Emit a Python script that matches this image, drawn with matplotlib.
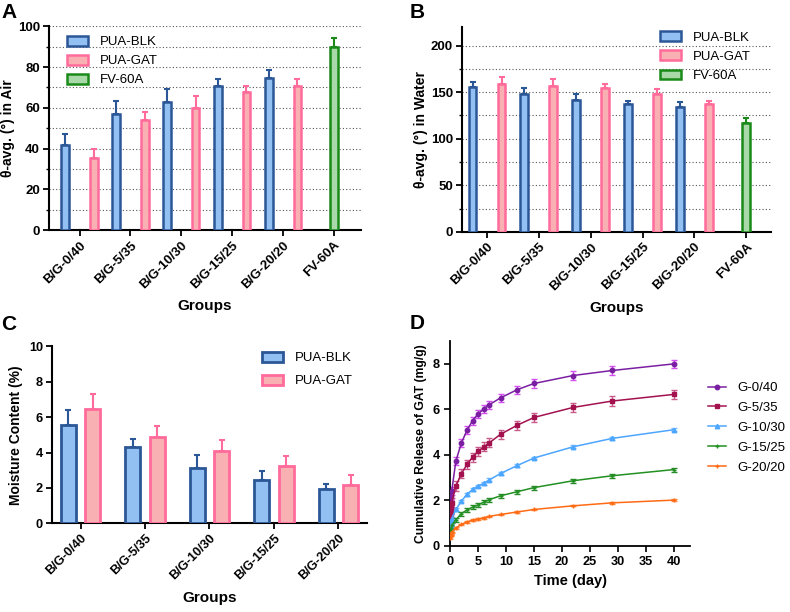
import numpy as np
import matplotlib
matplotlib.use("Agg")
import matplotlib.pyplot as plt
from matplotlib.ticker import MultipleLocator
from matplotlib.patches import Patch

plt.rcParams['font.family'] = ['Liberation Sans', 'DejaVu Sans']

groups = ["B/G-0/40", "B/G-5/35", "B/G-10/30", "B/G-15/25", "B/G-20/20"]
groups_fv = groups + ["FV-60A"]

# Panel A: contact angle in air
air_blk = [42, 57, 63, 70.5, 74.5]
air_blk_err = [5, 6.5, 6, 3.5, 4]
air_gat = [35.5, 54, 60, 68, 70.5]
air_gat_err = [4.5, 4, 6, 2.5, 3.5]
air_fv = 90
air_fv_err = 4.5

# Panel B: contact angle in water
wat_blk = [156, 148, 142, 137, 134]
wat_blk_err = [5, 7, 6, 4, 5]
wat_gat = [159, 157, 154, 148, 137]
wat_gat_err = [7, 7, 5, 5, 4]
wat_fv = 117
wat_fv_err = 5

# Panel C: moisture content
mc_blk = [5.55, 4.3, 3.1, 2.45, 1.95]
mc_blk_err = [0.85, 0.45, 0.75, 0.5, 0.25]
mc_gat = [6.45, 4.85, 4.1, 3.25, 2.15]
mc_gat_err = [0.85, 0.65, 0.6, 0.55, 0.6]

# Panel D: cumulative release
time_days = [0.021, 0.042, 0.083, 0.167, 0.25, 1, 2, 3, 4, 5, 6, 7, 9, 12, 15, 22, 29, 40]
rel_labels = ["G-0/40", "G-5/35", "G-10/30", "G-15/25", "G-20/20"]
rel_g0 = [1.3, 1.6, 1.9, 2.2, 2.4, 3.73, 4.53, 5.08, 5.5, 5.8, 6.02, 6.2, 6.5, 6.86, 7.13, 7.48, 7.7, 7.99]
rel_g5 = [1.3, 1.45, 1.6, 1.75, 1.9, 2.63, 3.17, 3.58, 3.9, 4.15, 4.35, 4.53, 4.9, 5.3, 5.64, 6.08, 6.36, 6.65]
rel_g10 = [0.8, 0.9, 1.0, 1.1, 1.2, 1.6, 1.97, 2.27, 2.48, 2.63, 2.75, 2.9, 3.18, 3.53, 3.86, 4.35, 4.72, 5.1]
rel_g15 = [0.6, 0.65, 0.72, 0.8, 0.9, 1.15, 1.42, 1.58, 1.7, 1.8, 1.92, 2.03, 2.2, 2.38, 2.56, 2.86, 3.08, 3.35]
rel_g20 = [0.35, 0.45, 0.5, 0.55, 0.6, 0.78, 0.95, 1.05, 1.13, 1.18, 1.23, 1.3, 1.38, 1.49, 1.6, 1.76, 1.89, 2.01]
rel_err = [0.18, 0.2, 0.06, 0.09, 0.03]

BLK_E, BLK_F = "#2b5797", "#93c0f2"
GAT_E, GAT_F = "#ff6b9b", "#f9b0b3"
FV_E, FV_F = "#1a8a1a", "#a9d8a9"

fig = plt.figure(figsize=(7.9, 6.12), dpi=100)

TICKFS = 9.5
LABFS = 10
GRPFS = 11
LEGFS = 9.5


def style_bar_axes(ax, fs=TICKFS):
    for s in ["top", "right"]:
        ax.spines[s].set_visible(False)
    ax.spines["left"].set_linewidth(1.5)
    ax.spines["bottom"].set_linewidth(1.5)
    ax.tick_params(axis="both", direction="out", width=1.3, length=4, labelsize=fs, pad=2.5)
    ax.tick_params(axis="y", which="minor", direction="out", width=1.0, length=2.5)
    for lab in ax.get_yticklabels():
        lab.set_fontweight("bold")


def draw_bar(ax, x, h, err, ec, fc, w, lw=1.8):
    ax.bar(x, h, width=w, color=fc, edgecolor=ec, linewidth=lw, zorder=3)
    ax.errorbar(x, h, yerr=[[0] * len(np.atleast_1d(h)), err], fmt="none",
                ecolor=ec, elinewidth=1.5, capsize=2.5, capthick=1.5, zorder=4)


def contact_panel(rect, blk, blk_err, gat, gat_err, fv, fv_err, ylim, major, minor,
                  ylabel, xlim, legbox):
    ax = fig.add_axes(rect)
    x = np.arange(len(groups))
    w = 0.15
    draw_bar(ax, x - 0.28, blk, blk_err, BLK_E, BLK_F, w)
    draw_bar(ax, x + 0.28, gat, gat_err, GAT_E, GAT_F, w)
    draw_bar(ax, [5], [fv], [fv_err], FV_E, FV_F, w)
    ax.set_ylim(*ylim)
    ax.set_xlim(*xlim)
    ax.yaxis.set_major_locator(MultipleLocator(major))
    ax.yaxis.set_minor_locator(MultipleLocator(minor))
    for v in np.arange(minor, ylim[1] + 0.01, minor):
        ax.axhline(v, color="#555555", linestyle=(0, (1, 2)), linewidth=0.8, zorder=1)
    ax.set_xticks(np.arange(6))
    ax.set_xticklabels(groups_fv, rotation=45, ha="right", rotation_mode="anchor",
                       fontweight="bold", fontsize=TICKFS)
    ax.set_xlabel("Groups", fontweight="bold", fontsize=GRPFS, labelpad=6)
    ax.set_ylabel(ylabel, fontweight="bold", fontsize=LABFS, labelpad=2)
    style_bar_axes(ax)
    handles = [Patch(facecolor=BLK_F, edgecolor=BLK_E, linewidth=1.8, label="PUA-BLK"),
               Patch(facecolor=GAT_F, edgecolor=GAT_E, linewidth=1.8, label="PUA-GAT"),
               Patch(facecolor=FV_F, edgecolor=FV_E, linewidth=1.8, label="FV-60A")]
    ax.legend(handles=handles, loc="upper left", bbox_to_anchor=legbox, frameon=False,
              fontsize=LEGFS, handlelength=1.6, handleheight=0.75, labelspacing=0.5,
              handletextpad=0.9, borderaxespad=0, borderpad=0)
    return ax


axA = contact_panel([0.062, 0.624, 0.395, 0.333], air_blk, air_blk_err, air_gat, air_gat_err,
                    air_fv, air_fv_err, (0, 100), 20, 10, "θ-avg. (°) in Air",
                    (-0.6, 5.53), (0.058, 0.953))
axB = contact_panel([0.585, 0.621, 0.391, 0.335], wat_blk, wat_blk_err, wat_gat, wat_gat_err,
                    wat_fv, wat_fv_err, (0, 220), 50, 25, "θ-avg. (°) in Water",
                    (-0.48, 5.48), (0.641, 0.978))

# Panel C
axC = fig.add_axes([0.066, 0.145, 0.399, 0.289])
xc = np.arange(len(groups))
wc = 0.23
draw_bar(axC, xc - 0.19, mc_blk, mc_blk_err, BLK_E, BLK_F, wc, lw=2.0)
draw_bar(axC, xc + 0.19, mc_gat, mc_gat_err, GAT_E, GAT_F, wc, lw=2.0)
axC.set_ylim(0, 10)
axC.set_xlim(-0.44, 4.45)
axC.yaxis.set_major_locator(MultipleLocator(2))
axC.set_xticks(xc)
axC.set_xticklabels(groups, rotation=45, ha="right", rotation_mode="anchor",
                    fontweight="bold", fontsize=9.2)
axC.set_xlabel("Groups", fontweight="bold", fontsize=GRPFS, labelpad=6)
axC.set_ylabel("Moisture Content (%)", fontweight="bold", fontsize=LABFS, labelpad=4)
style_bar_axes(axC, fs=9.2)
handlesC = [Patch(facecolor=BLK_F, edgecolor=BLK_E, linewidth=2.0, label="PUA-BLK"),
            Patch(facecolor=GAT_F, edgecolor=GAT_E, linewidth=2.0, label="PUA-GAT")]
axC.legend(handles=handlesC, loc="upper left", bbox_to_anchor=(0.667, 0.969), frameon=False,
           fontsize=LEGFS, handlelength=1.6, handleheight=0.75, labelspacing=0.8,
           handletextpad=0.9, borderaxespad=0, borderpad=0)

# Panel D
axD = fig.add_axes([0.570, 0.108, 0.304, 0.335])
rel_series = [rel_g0, rel_g5, rel_g10, rel_g15, rel_g20]
line_cols = ["#7b1fa2", "#a3124f", "#4da6ff", "#229022", "#ff6a13"]
err_cols = ["#d44ef0", "#c85a8a", "#7fbfff", "#2a8a2a", "#ff8a40"]
markers = ["o", "s", "^", "+", "+"]
for ys, lab, lc, ecol, mk, er in zip(rel_series, rel_labels, line_cols, err_cols, markers, rel_err):
    axD.errorbar(time_days, ys, yerr=er, fmt="none", ecolor=ecol, elinewidth=1.0,
                 capsize=2, capthick=1.0, zorder=2)
    axD.plot(time_days, ys, color=lc, linewidth=1.1, marker=mk, markersize=3.2,
             markeredgewidth=1.0, label=lab, zorder=3)
axD.set_xlim(0, 43)
axD.set_ylim(0, 9)
axD.xaxis.set_major_locator(MultipleLocator(5))
axD.yaxis.set_major_locator(MultipleLocator(2))
for s in ["top", "right"]:
    axD.spines[s].set_visible(False)
axD.spines["left"].set_linewidth(1.3)
axD.spines["bottom"].set_linewidth(1.3)
axD.tick_params(axis="both", direction="out", width=1.2, length=4, labelsize=9.2)
for lab in axD.get_xticklabels() + axD.get_yticklabels():
    lab.set_fontweight("bold")
axD.set_xlabel("Time (day)", fontweight="bold", fontsize=10.5)
axD.set_ylabel("Cumulative Release of GAT (mg/g)", fontweight="bold", fontsize=8.7)
axD.legend(loc="upper left", bbox_to_anchor=(1.071, 0.80), frameon=False, fontsize=LEGFS,
           handlelength=1.4, labelspacing=0.58, handletextpad=0.9, borderaxespad=0,
           borderpad=0)

# Panel letters
fig.text(0.002, 0.995, "A", fontsize=15, fontweight="bold", va="top")
fig.text(0.518, 0.995, "B", fontsize=15, fontweight="bold", va="top")
fig.text(0.002, 0.485, "C", fontsize=15, fontweight="bold", va="top")
fig.text(0.518, 0.487, "D", fontsize=15, fontweight="bold", va="top")

fig.savefig("out.png", dpi=100)
